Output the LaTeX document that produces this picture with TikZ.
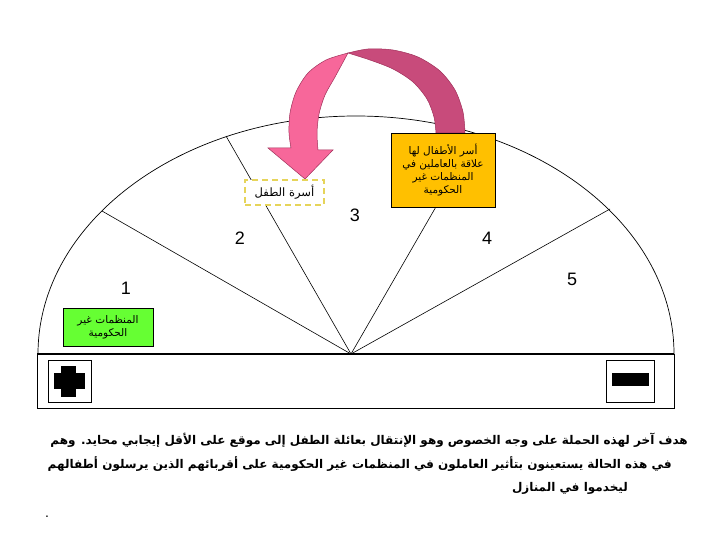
\documentclass[tikz,border=0pt]{standalone}
\usepackage{fontspec}
\setmainfont{Liberation Sans}
\newfontfamily\arabicfont[Script=Arabic]{DejaVu Sans}
\TeXXeTstate=1
\definecolor{pinkf}{HTML}{F7679A}
\definecolor{crimf}{HTML}{C84B7B}
\definecolor{arrowl}{HTML}{A0305A}
\definecolor{goldf}{HTML}{FFC000}
\definecolor{limef}{HTML}{66FF33}
\definecolor{dashc}{HTML}{E6D45A}
\tikzset{
  digit/.style={font=\fontsize{18}{20}\selectfont, inner sep=0pt},
  ray/.style={draw=black, line width=0.6pt},
  boxtext/.style={font=\arabicfont\fontsize{10.5}{13}\selectfont, align=center, inner sep=0pt},
  bodytext/.style={font=\arabicfont\bfseries\fontsize{12}{14}\selectfont, inner sep=0pt, anchor=east},
}
\begin{document}
\begin{tikzpicture}[x=1pt,y=-1pt]
\useasboundingbox (0,0) rectangle (720,540);
% semicircle (half ellipse)
\draw[line width=0.7pt] (38,354) arc[start angle=180, end angle=0, x radius=318pt, y radius=238pt];
% rays
\coordinate (c) at (351,354);
\coordinate (r1) at (102,211);
\coordinate (r2) at (226,136);
\coordinate (r3) at (478,134);
\coordinate (r4) at (610,209);
\foreach \r in {r1,r2,r3,r4} \draw[ray] (c) -- (\r);
% curved arrow
\filldraw[fill=crimf, draw=arrowl, line width=0.5pt]
  plot[smooth] coordinates {(465,133) (463,112) (455,90) (440,71) (418,57) (393,50) (368,49) (348,53)}
  -- plot[smooth] coordinates {(348,53) (370,60) (393,69) (413,82) (427,99) (434,117) (436,133)} -- cycle;
\filldraw[fill=pinkf, draw=arrowl, line width=0.5pt]
  plot[smooth] coordinates {(348,53) (326,60) (308,73) (296,92) (290,113) (289,133) (291,148)}
  -- (268,148) -- (305,179) -- (333,150) -- (318,150)
  -- plot[smooth] coordinates {(318,150) (317,133) (319,114) (325,95) (335,77) (348,53)} -- cycle;
% boxes
\node[boxtext, draw=black, line width=0.6pt, fill=goldf, minimum width=104pt, minimum height=74pt] (fam) at (443,170)
  {\beginR أسر الأطفال لها\endR\\ \beginR علاقة بالعاملين في\endR\\ \beginR المنظمات غير\endR\\ \beginR الحكومية\endR};
\node[boxtext, draw=dashc, fill=white, line width=2pt, dash pattern=on 6pt off 4pt, minimum width=79pt, minimum height=25pt, font=\arabicfont\fontsize{11.5}{13}\selectfont] (child) at (284.5,192.5)
  {\beginR أسرة الطفل\endR};
\node[boxtext, draw=black, line width=0.6pt, fill=limef, minimum width=90pt, minimum height=38pt, text width=80pt] (ngo) at (108,327)
  {\beginR المنظمات غير\endR\\ \beginR الحكومية\endR};
% digits
\node[digit] (d1) at (126,288) {1};
\node[digit] (d2) at (240,238) {2};
\node[digit] (d3) at (355,215) {3};
\node[digit] (d4) at (487,238) {4};
\node[digit] (d5) at (572,279) {5};
% base rectangle
\draw[line width=0.9pt] (37,354) rectangle (674,408);
\draw[line width=2.4pt] (37,354) -- (674,354);
\draw[line width=0.8pt] (48,360) rectangle (91,402);
\fill (61,366) rectangle (76,397);
\fill (54,373) rectangle (85,389);
\draw[line width=0.8pt] (606,360) rectangle (654,402);
\fill (612,373) rectangle (649,386);
% paragraph
\node[bodytext] (l1) at (688,440) {\beginR هدف آخر لهذه الحملة على وجه الخصوص وهو الإنتقال بعائلة الطفل إلى موقع على الأقل إيجابي محايد. وهم\endR};
\node[bodytext] (l2) at (672,464) {\beginR في هذه الحالة يستعينون بتأثير العاملون في المنظمات غير الحكومية على أقربائهم الذين يرسلون أطفالهم\endR};
\node[bodytext] (l3) at (628,488) {\beginR ليخدموا في المنازل\endR};
\node[font=\fontsize{14}{14}\selectfont, inner sep=0pt] (dot) at (47,517) {.};
\end{tikzpicture}
\end{document}
